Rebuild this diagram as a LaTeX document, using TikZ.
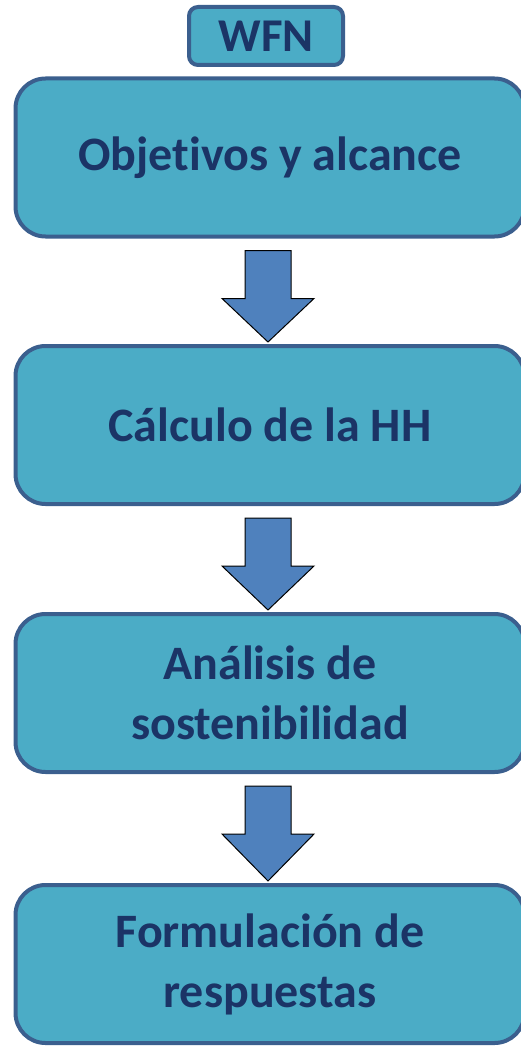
\documentclass[tikz,border=0pt]{standalone}
\usepackage{fontspec}
\setmainfont[Ligatures={NoCommon}]{Carlito}
\usepackage{tikz}
\usetikzlibrary{calc}

\definecolor{cajaFill}{HTML}{4BACC6}
\definecolor{cajaLine}{HTML}{3B5F8E}
\definecolor{textoAzul}{HTML}{1B3466}
\definecolor{flechaFill}{HTML}{4F81BD}

\tikzset{
  caja/.style={draw=cajaLine, fill=cajaFill, line width=4pt, rounded corners=30pt,
    minimum width=509pt, minimum height=158pt, align=center, text=textoAzul,
    font=\fontsize{48}{60}\selectfont\bfseries},
  etiqueta/.style={draw=cajaLine, fill=cajaFill, line width=4pt, rounded corners=9pt,
    minimum width=154pt, minimum height=58pt, text=textoAzul,
    font=\fontsize{47}{50}\selectfont\bfseries},
  flecha/.style={draw=black, fill=flechaFill, line width=1pt}
}

% block arrow from the bottom of #1 to the top of #2
\newcommand{\flecha}[2]{%
  \path ($(#1.south)+(-2,12)$) coordinate (fa) ($(#2.north)+(-2,-2)$) coordinate (fb);
  \draw [flecha] ($(fa)+(-23,0)$) -- ($(fa)+(23,0)$) -- ($(fa)+(23,48)$) -- ($(fa)+(46,48)$)
    -- (fb) -- ($(fa)+(-46,48)$) -- ($(fa)+(-23,48)$) -- cycle;
}

\begin{document}
\begin{tikzpicture}[x=1pt,y=-1pt]
\useasboundingbox (0,0) rectangle (521,1046);

% Text Node
\node [etiqueta] (wfn) at (266,36) {WFN};
% Text Node
\node [caja] (obj) at (270,157.5) {Objetivos y alcance};
% Text Node
\node [caja] (calc) at (270,425) {Cálculo de la HH};
% Text Node
\node [caja] (anal) at (270,693) {Análisis de\\sostenibilidad};
% Text Node
\node [caja] (form) at (270,964) {Formulación de\\respuestas};

% Connection
\flecha{obj}{calc}
% Connection
\flecha{calc}{anal}
% Connection
\flecha{anal}{form}

\end{tikzpicture}
\end{document}
